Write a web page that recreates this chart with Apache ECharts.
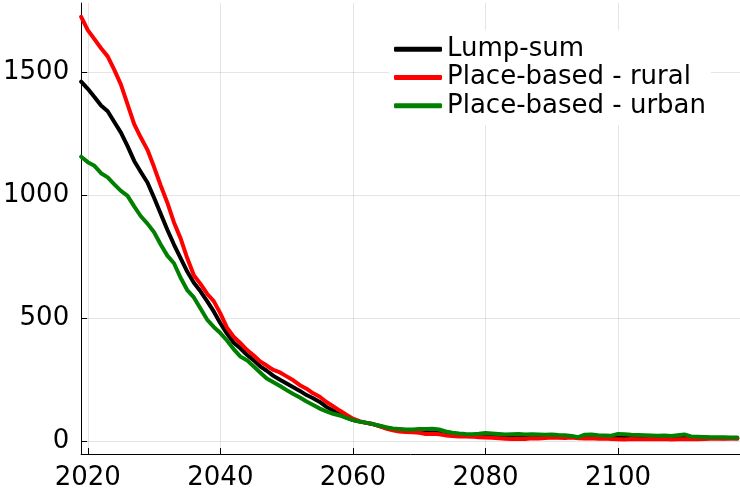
<!DOCTYPE html>
<html>
<head>
<meta charset="utf-8">
<script src="https://cdn.jsdelivr.net/npm/echarts@6/dist/echarts.min.js"></script>
<style>html,body{margin:0;padding:0;background:#fff;}#c{width:740px;height:491px;}</style>
</head>
<body>
<div id="c"></div>
<script>
const years = [];
for (let y = 2019; y <= 2118; y++) years.push(y);

const lumpSum = [1462,1433,1400,1365,1342,1298,1255,1200,1140,1095,1052,990,925,860,800,745,690,645,610,570,528,480,438,402,378,352,330,305,287,266,250,235,220,205,188,175,160,140,125,110,97,86,80,75,70,62,55,50,48,45,44,43,45,44,42,38,33,28,26,24,23,25,24,22,23,20,22,21,20,22,21,20,21,19,18,17,20,19,18,17,18,20,18,16,17,16,17,15,16,15,16,18,15,14,15,13,13,12,12,11];
const rural = [1726,1672,1635,1598,1565,1510,1450,1370,1290,1235,1185,1115,1040,970,890,825,745,675,640,600,570,520,462,425,400,372,350,325,308,290,280,264,248,228,214,195,181,160,143,125,108,92,82,75,70,62,52,45,40,38,37,35,30,31,29,24,22,20,20,19,16,15,14,12,10,9,10,9,12,11,13,15,14,13,15,12,11,12,10,11,9,8,7,9,8,8,9,8,9,7,8,8,9,8,9,10,11,10,11,12];
const urban = [1157,1135,1120,1090,1073,1045,1018,998,955,915,885,850,800,755,724,665,615,585,540,495,465,440,410,375,345,330,305,280,255,240,225,208,192,178,162,148,133,122,112,105,95,86,80,76,70,64,57,52,50,48,48,50,50,51,48,40,35,32,30,29,31,34,32,30,28,29,30,28,29,28,27,28,26,25,22,17,27,28,25,24,23,30,29,27,26,25,24,23,24,22,25,28,20,19,18,17,16,16,15,15];

const seriesNames = ['Lump-sum', 'Place-based - rural', 'Place-based - urban'];
const seriesColors = ['#000000', '#ff0000', '#008000'];
const seriesValues = [lumpSum, rural, urban];

const xTicks = [2020, 2040, 2060, 2080, 2100];
const yTicks = [0, 500, 1000, 1500];

const chart = echarts.init(document.getElementById('c'), null, {renderer: 'canvas'});
const font = 'DejaVu Sans';
const plain = v => String(Math.round(v));

chart.setOption({
  animation: false,
  backgroundColor: '#ffffff',
  grid: {left: 78.5, right: 0, top: 3, bottom: 37, containLabel: false},
  legend: {
    orient: 'vertical',
    left: 389,
    top: 30,
    padding: [5, 5, 5, 5],
    backgroundColor: '#ffffff',
    itemWidth: 48,
    itemHeight: 5,
    itemGap: 0,
    icon: 'roundRect',
    data: seriesNames,
    textStyle: {fontFamily: font, fontSize: 26, color: '#000', lineHeight: 28.3}
  },
  xAxis: {
    type: 'value',
    min: 2019,
    max: 2118.4,
    axisLine: {show: true, onZero: false, lineStyle: {color: '#000', width: 1}},
    axisTick: {show: true, inside: true, length: 6, customValues: xTicks, lineStyle: {color: '#000'}},
    axisLabel: {customValues: xTicks, formatter: plain, fontFamily: font, fontSize: 26, color: '#000', margin: 11},
    splitLine: {show: true, lineStyle: {color: 'rgba(0,0,0,0.1)', width: 1}}
  },
  yAxis: {
    type: 'value',
    min: -51.6,
    max: 1782,
    axisLine: {show: true, onZero: false, lineStyle: {color: '#000', width: 1}},
    axisTick: {show: true, inside: true, length: 6, customValues: yTicks, lineStyle: {color: '#000'}},
    axisLabel: {customValues: yTicks, formatter: plain, fontFamily: font, fontSize: 26, color: '#000', margin: 12},
    splitLine: {show: true, lineStyle: {color: 'rgba(0,0,0,0.1)', width: 1}}
  },
  series: seriesNames.map((name, i) => ({
    name: name,
    type: 'line',
    showSymbol: false,
    symbol: 'none',
    data: years.map((y, j) => [y, seriesValues[i][j]]),
    lineStyle: {color: seriesColors[i], width: 4, join: 'round', cap: 'round'},
    itemStyle: {color: seriesColors[i]}
  }))
});
</script>
</body>
</html>
